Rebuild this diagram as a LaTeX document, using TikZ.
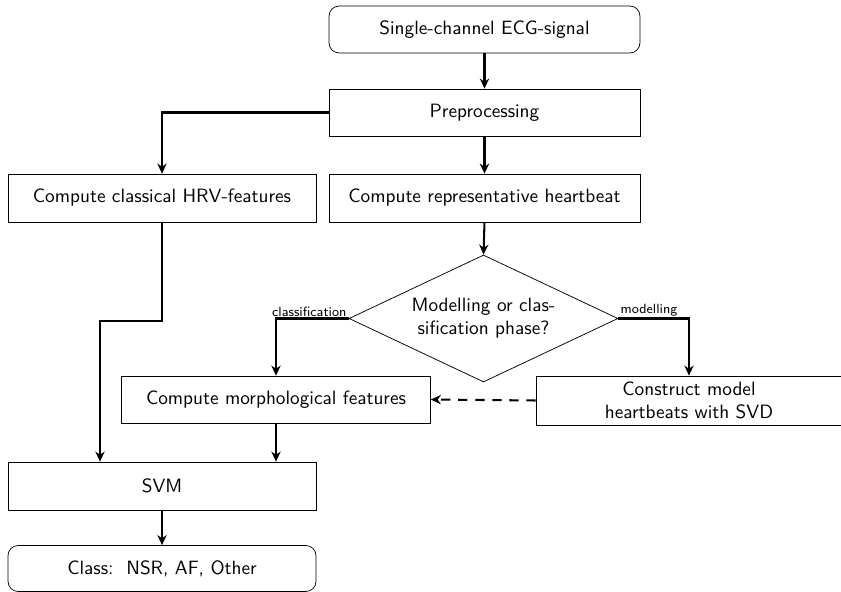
\documentclass[tikz,border=0pt]{standalone}
\usetikzlibrary{shapes.geometric,arrows.meta,calc}
\renewcommand{\familydefault}{\sfdefault}
\begin{document}
\begin{tikzpicture}[x=0.54pt,y=-0.54pt,
  box/.style={draw, line width=0.4pt, rectangle, inner sep=0pt, align=center,
    font=\sffamily\fontsize{10.4}{12.3}\selectfont},
  roundbox/.style={box, rounded corners=5.5pt},
  decision/.style={draw, line width=0.4pt, diamond, inner sep=0pt, align=center,
    font=\sffamily\fontsize{10.4}{12.3}\selectfont},
  flow/.style={line width=1.1pt, -{Stealth[length=5.4pt,width=5pt,inset=1.7pt]}},
  branchlabel/.style={font=\sffamily\fontsize{7.2}{8.5}\selectfont, inner sep=1pt}
]
\useasboundingbox (0,0) rectangle (841,592);

% processing blocks
\node[roundbox, minimum width=311*0.54pt, minimum height=47*0.54pt] (signal) at (484.5,29.5) {Single-channel ECG-signal};
\node[box, minimum width=311*0.54pt, minimum height=47*0.54pt] (pre) at (484.5,112.5) {Preprocessing};
\node[box, minimum width=308*0.54pt, minimum height=48*0.54pt] (hrv) at (162,198) {Compute classical HRV-features};
\node[box, minimum width=311*0.54pt, minimum height=48*0.54pt] (rep) at (484.5,198) {Compute representative heartbeat};
\node[decision, minimum width=269*0.54pt, minimum height=127*0.54pt, aspect=2.12] (phase) at (483.5,318.5) {Modelling or clas-\\sification phase?};
\node[box, minimum width=309*0.54pt, minimum height=47*0.54pt] (morph) at (276,399.5) {Compute morphological features};
\node[box, minimum width=306*0.54pt, minimum height=49*0.54pt] (svd) at (689,400.5) {Construct model\\heartbeats with SVD};
\node[box, minimum width=308*0.54pt, minimum height=48*0.54pt] (svm) at (162,486) {SVM};
\node[roundbox, minimum width=308*0.54pt, minimum height=46*0.54pt] (class) at (162,568.5) {Class:\ \ NSR, AF, Other};

\coordinate (hrvbend) at (100,321);

% connectors
\draw[flow] (signal.south) -- (pre.north);
\draw[flow] (pre.west) -| (hrv.north);
\draw[flow] (pre.south) -- (rep.north);
\draw[flow] (rep.south) -- (phase.north);
\draw[flow] (phase.west) -| (morph.north);
\draw[flow] (phase.east) -| (svd.north);
\draw[flow, dash pattern=on 5pt off 4.2pt] (svd.west) -- (morph.east);
\draw[flow] (hrv.south) |- (hrvbend) -- (hrvbend |- svm.north);
\draw[flow] (morph.south) -- (morph.south |- svm.north);
\draw[flow] (svm.south) -- (class.north);

% branch labels
\node[branchlabel, anchor=south east] at (phase.west) {classification};
\node[branchlabel, anchor=south west] at (phase.east) {modelling};
\end{tikzpicture}
\end{document}
